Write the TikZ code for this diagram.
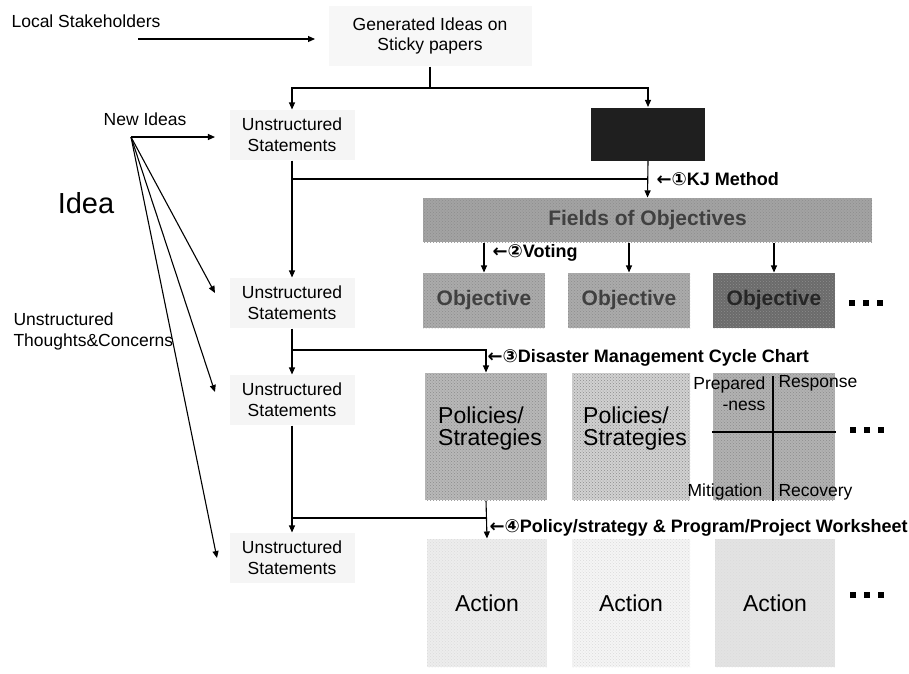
\documentclass[tikz,border=0pt]{standalone}
\usepackage{fontspec}
\setmainfont{Liberation Sans}
\newfontfamily\symfont{DejaVu Sans}
\usetikzlibrary{arrows.meta,patterns,calc}

\newcommand\fsz[2]{\fontsize{#1}{#2}\selectfont}
\newcommand\threedots{\rule{6pt}{6pt}\hspace{8pt}\rule{6pt}{6pt}\hspace{8pt}\rule{6pt}{6pt}}

\begin{document}
\begin{tikzpicture}[x=1pt,y=-1pt,
  line width=1.1pt,
  arr/.style={-{Triangle[length=7pt,width=6pt]}},
  plain/.style={font=\fsz{17.5}{21}, inner sep=0, align=center},
  stmt/.style={plain, minimum width=125, minimum height=50, fill=black!4},
  steplbl/.style={font=\fsz{18}{21}\bfseries, inner sep=0, anchor=west},
  grain/.style={fill=#1, draw=none, inner sep=0,
    postaction={pattern=crosshatch dots, pattern color=black!45}},
  lightgrain/.style={fill=#1, draw=none, inner sep=0,
    postaction={pattern=crosshatch dots, pattern color=black!14}},
  objbox/.style={grain=#1, minimum width=122, minimum height=55,
    font=\fsz{21}{24}\bfseries, text=black!75},
  polbox/.style={grain=#1, minimum height=127},
  actbox/.style={lightgrain=#1, minimum height=128,
    font=\fsz{23}{26}},
  bigtxt/.style={font=\fsz{23}{22}, inner sep=0, align=left},
  dotrow/.style={inner sep=0}
]
\useasboundingbox (0,0) rectangle (909,673);

% ---- top: stakeholders and sticky papers
\node[plain, anchor=west] (ls) at (11,21) {Local Stakeholders};
\coordinate (lsA) at (138,39);
\coordinate (lsB) at (315,39);
\draw[arr] (lsA) -- (lsB);
\node[plain, font=\fsz{17.5}{20}, fill=black!3, minimum width=203, minimum height=60]
  (gen) at (430,36) {Generated Ideas on\\Sticky papers};
\coordinate (split) at (430,88);

% ---- left column of statements
\node[stmt] (u1) at (292,135) {Unstructured\\Statements};
\node[stmt] (u2) at (292,303) {Unstructured\\Statements};
\node[stmt] (u3) at (292,400) {Unstructured\\Statements};
\node[stmt] (u4) at (292,558) {Unstructured\\Statements};

% ---- new ideas fan
\node[plain] (ni) at (145,119) {New Ideas};
\node[plain, font=\fsz{29}{34}] (idea) at (86,203) {Idea};
\node[plain, align=left, anchor=west] (utc) at (13,331) {Unstructured\\Thoughts\&Concerns};
\coordinate (fan) at (131,137);
\draw[arr] (fan) -- ($(u1.west)+(-14,2)$);
\draw[arr] (fan) -- ($(u2.west)+(-14,-10)$);
\draw[arr] (fan) -- ($(u3.west)+(-14,-8)$);
\draw[arr] (fan) -- ($(u4.west)+(-12,0)$);

% ---- KJ step
\node[fill=black!88, minimum width=114, minimum height=53, inner sep=0] (kj) at (648,134) {};
\draw (gen.south) -- (split);
\draw[arr] (split) -| (u1.north);
\draw[arr] (split) -| (kj.north);

\node[grain=black!36, minimum width=449, minimum height=44,
  font=\fsz{21}{24}\bfseries, text=black!75] (fo) at (647.5,220) {Fields of Objectives};
\draw[arr] (kj.south) -- (fo.north);
\draw[arr] (u1.south) -- (u2.north);
\coordinate (j1) at (292,179);
\draw (j1) -- (j1 -| kj.south);
\node[steplbl] (l1) at (656,179) {{\symfont ←①}KJ Method};

% ---- objectives
\node[objbox=black!33] (o1) at (484,300.5) {Objective};
\node[objbox=black!33] (o2) at (629,300.5) {Objective};
\node[objbox=black!58, text=black!85] (o3) at (774,300.5) {Objective};
\draw[arr] (fo.south -| o1.north) -- (o1.north);
\draw[arr] (fo.south -| o2.north) -- (o2.north);
\draw[arr] (fo.south -| o3.north) -- (o3.north);
\node[steplbl] (l2) at (492,253) {{\symfont ←②}Voting};
\node[dotrow] (d1) at (866,303) {\threedots};

% ---- policies / strategies
\node[polbox=black!28, minimum width=122] (p1) at (486,436.5) {};
\node[polbox=black!18, minimum width=118] (p2) at (631,436.5) {};
\node[polbox=black!30, minimum width=122] (q) at (774,436.5) {};
\node[bigtxt] (p1t) at (490,429) {Policies/\\Strategies};
\node[bigtxt] (p2t) at (635,429) {Policies/\\Strategies};
\coordinate (j2) at (292,350);
\draw[arr] (u2.south) -- (u3.north);
\draw[arr] (j2) -| (p1.north);
\node[steplbl] (l3) at (487,358) {{\symfont ←③}Disaster Management Cycle Chart};

% disaster management cycle quadrants
\draw ($(q.north)+(-1,4)$) -- ($(q.south)+(-1,0)$);
\draw ($(q.west)+(0,-4.5)$) -- ($(q.east)+(0,-4.5)$);
\node[plain, align=right, anchor=east] (prep) at (766,394) {Prepared\\-ness};
\node[plain, anchor=west] (resp) at (778,383) {Response};
\node[plain, anchor=east] (miti) at (763,492) {Mitigation};
\node[plain, anchor=west] (reco) at (778,492) {Recovery};
\node[dotrow] (d2) at (867,430) {\threedots};

% ---- actions
\node[actbox=black!7, minimum width=120] (a1) at (487,603) {Action};
\node[actbox=black!4, minimum width=118] (a2) at (631,603) {Action};
\node[actbox=black!11, minimum width=120] (a3) at (775,603) {Action};
\coordinate (j3) at (292,518);
\draw[arr] (u3.south) -- (u4.north);
\draw (j3) -- (j3 -| p1.south);
\draw[arr] (p1.south) -- (a1.north);
\node[steplbl] (l4) at (489,528) {{\symfont ←④}Policy/strategy \& Program/Project Worksheet};
\node[dotrow] (d3) at (867,595) {\threedots};
\end{tikzpicture}
\end{document}
